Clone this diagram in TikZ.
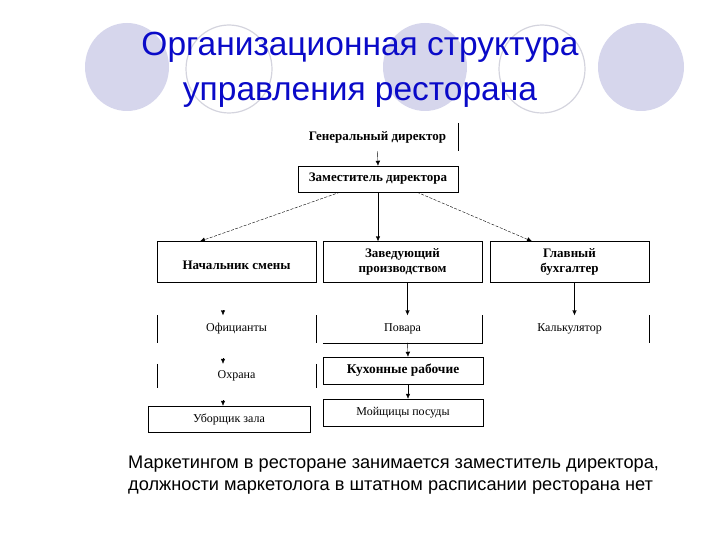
\documentclass[tikz,border=0pt]{standalone}
\usepackage{fontspec}
\setmainfont{Liberation Serif}
\newfontfamily\headfont{Liberation Sans}
\usetikzlibrary{arrows.meta}
\definecolor{lavender}{RGB}{214,214,236}
\definecolor{ringgray}{RGB}{212,212,222}
\definecolor{titleblue}{RGB}{10,10,200}

\begin{document}
\begin{tikzpicture}[x=1pt,y=-1pt,
   every node/.style={inner sep=0pt},
   disc/.style={fill=lavender,draw=none},
   ring/.style={draw=ringgray,line width=1.2pt,fill=white},
   post/.style={minimum width=159pt,font=\fontsize{13}{15}\selectfont\bfseries,align=center},
   staff/.style={minimum width=159pt,font=\fontsize{12}{14.5}\selectfont,align=center},
   frame/.style={draw,thin},
   to/.style={-{Latex[length=5pt,width=4.5pt]},thin},
   link/.style={-{Latex[length=5pt,width=4.5pt]},thin,dash pattern=on 3pt off 1.5pt}]
\useasboundingbox (0,0) rectangle (720,540);
% decoration behind the title
\fill[disc] (127,67) ellipse [x radius=42pt,y radius=44pt];
\draw[ring] (229,69) ellipse [x radius=43pt,y radius=44pt];
\fill[disc] (425,67) ellipse [x radius=42pt,y radius=44pt];
\draw[ring] (542,69) ellipse [x radius=43pt,y radius=44pt];
\fill[disc] (641,67) ellipse [x radius=43pt,y radius=44pt];
\node[font=\headfont\fontsize{33.5}{45}\selectfont,text=titleblue,align=center] (title) at (360,70) {Организационная структура\\управления ресторана};
% chart
\node[post,minimum width=161pt,minimum height=28pt] (gen) at (377.5,137) {Генеральный директор};
\node[post,frame,minimum width=160pt,minimum height=26pt] (zam) at (378,179) {Заместитель директора};
\node[post,frame,minimum height=41pt] (nach) at (236.5,262) {\mbox{}\\Начальник смены};
\node[post,frame,minimum height=41pt] (zav) at (402.5,262) {Заведующий\\производством};
\node[post,frame,minimum height=41pt] (glav) at (569.5,262) {Главный\\бухгалтер};
\node[staff,minimum height=27pt] (ofic) at (236.5,329) {Официанты};
\node[staff,minimum height=27pt] (povar) at (402.5,329) {Повара};
\node[staff,minimum height=27pt] (kalk) at (569.5,329) {Калькулятор};
\node[staff,minimum height=24pt] (ohr) at (236.5,376) {Охрана};
\node[post,frame,minimum width=160pt,minimum height=27pt,font=\fontsize{13.4}{15}\selectfont\bfseries] (kuh) at (403,370.5) {Кухонные рабочие};
\node[staff,frame,minimum width=160pt,minimum height=27pt] (moy) at (403,412.5) {Мойщицы посуды};
\node[staff,frame,minimum width=162pt,minimum height=26pt] (ubor) at (229,419) {Уборщик зала};
% broken borders
\draw (gen.north east) -- (gen.south east);
\draw (ofic.north west) -- (ofic.south west) (ofic.north east) -- (ofic.south east);
\draw (povar.south west) -- (povar.south east) -- (povar.north east);
\draw (kalk.north east) -- (kalk.south east);
\draw (ohr.north west) -- (ohr.south west) (ohr.north east) -- (ohr.south east);
% arrows
\coordinate (ofictop) at (223,310);
\coordinate (ohrtop) at (223,358);
\coordinate (ubortop) at (223,400);
\draw[to] (gen.south) -- (zam.north);
\draw[to] (zam.south) -- (zam.south |- zav.north);
\draw[link] ([xshift=-38pt]zam.south) -- ([xshift=-36.5pt]nach.north);
\draw[link] ([xshift=39pt]zam.south) -- ([xshift=-37.5pt]glav.north);
\draw[to] ([xshift=5pt]zav.south) -- ([xshift=5pt]povar.north);
\draw[to] ([xshift=5pt]glav.south) -- ([xshift=5pt]kalk.north);
\draw[to] ([xshift=5pt]povar.south) -- ([xshift=5pt]kuh.north);
\draw[to] ([xshift=5pt]kuh.south) -- ([xshift=5pt]moy.north);
\draw[to] (ofictop) -- (ofictop |- ofic.north);
\draw[to] (ohrtop) -- (ohrtop |- ohr.north);
\draw[to] (ubortop) -- (ubortop |- ubor.north);
% note
\node[font=\headfont\fontsize{18.2}{22}\selectfont,align=left,anchor=west] (note) at (128,475) {Маркетингом в ресторане занимается заместитель директора,\\должности маркетолога в штатном расписании ресторана нет};
\end{tikzpicture}
\end{document}
